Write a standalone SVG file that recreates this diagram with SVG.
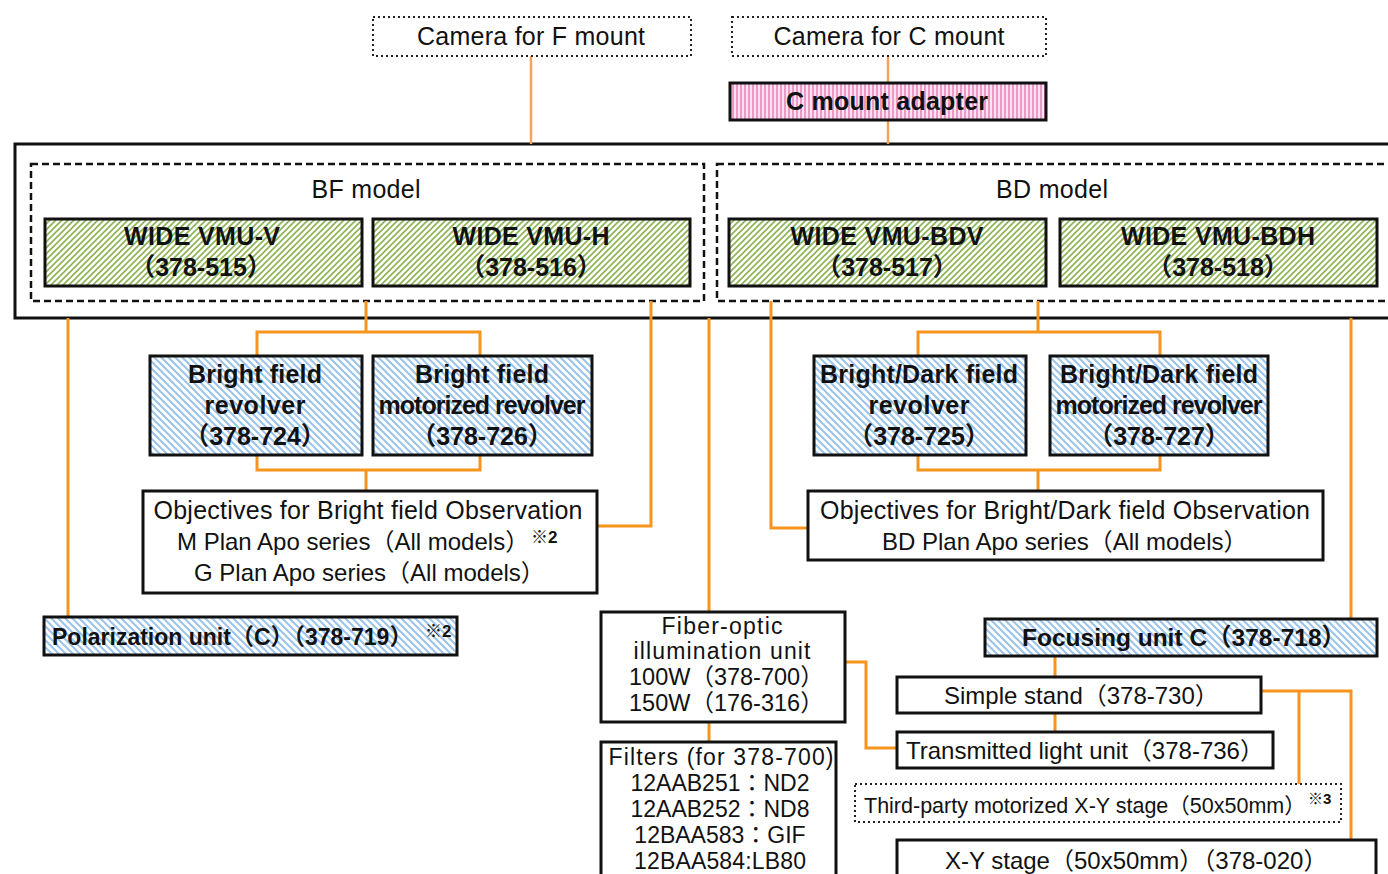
<svg xmlns="http://www.w3.org/2000/svg" width="1388" height="874" viewBox="0 0 1388 874">
<defs>
<pattern id="green" patternUnits="userSpaceOnUse" width="6" height="6">
<rect width="6" height="6" fill="#ffffff"/>
<path d="M-1,1 L1,-1 M0,6 L6,0 M5,7 L7,5" stroke="#8cb354" stroke-width="1.6"/>
</pattern>
<pattern id="blue" patternUnits="userSpaceOnUse" width="7" height="7">
<rect width="7" height="7" fill="#ffffff"/>
<path d="M-1,6 L1,8 M0,0 L7,7 M6,-1 L8,1" stroke="#9cc4ea" stroke-width="2"/>
</pattern>
<pattern id="pink" patternUnits="userSpaceOnUse" width="4" height="4">
<rect width="4" height="4" fill="#fbe3f0"/>
<path d="M1,0 V4" stroke="#e97fb9" stroke-width="1.5"/>
</pattern>
</defs>
<style>
text{font-family:"Liberation Sans","Noto Sans CJK JP",sans-serif;font-size:25px;fill:#111;text-anchor:middle}
.b{font-weight:bold}
.s{text-anchor:start}
.f{font-size:23px}
.sup{font-size:17px;font-weight:bold;text-anchor:start}
.box{fill:#fff;stroke:#111;stroke-width:3}
.dot{fill:#fff;stroke:#222;stroke-width:2;stroke-dasharray:2 3}
.dash{fill:none;stroke:#111;stroke-width:2.5;stroke-dasharray:7 4}
.g{fill:url(#green);stroke:#111;stroke-width:3}
.bl{fill:url(#blue);stroke:#111;stroke-width:3}
.pk{fill:url(#pink);stroke:#111;stroke-width:3}
.c{fill:none;stroke:#f7941d;stroke-width:3}
.ct{fill:none;stroke:#f5a25a;stroke-width:2.5}
</style>

<g id="system">
<rect x="15" y="144" width="1400" height="174" fill="#fff" stroke="#111" stroke-width="3"/>
</g>
<g id="bf-model">
<rect class="dash" x="31" y="164" width="673" height="137"/>
<text x="366" y="198" textLength="109">BF model</text>
</g>
<g id="bd-model">
<rect class="dash" x="717" y="164" width="700" height="137"/>
<text x="1052" y="198" textLength="112">BD model</text>
</g>

<g id="connectors">
<path class="ct" d="M531 56 V144"/>
<path class="ct" d="M888 56 V83 M888 120 V144"/>
<path class="c" d="M68 318 V617"/>
<path class="c" d="M366 301 V332 M257 356 V332 H480 V356"/>
<path class="c" d="M257 455 V470 H480 V455 M366 470 V491"/>
<path class="c" d="M651 301 V526 H597"/>
<path class="c" d="M709 318 V612"/>
<path class="c" d="M709 722 V742"/>
<path class="c" d="M845 662 H866 V748 H897"/>
<path class="c" d="M771 301 V528 H808"/>
<path class="c" d="M1038 301 V332 M918 356 V332 H1160 V356"/>
<path class="c" d="M918 455 V470 H1160 V455 M1038 470 V491"/>
<path class="c" d="M1351 318 V619"/>
<path class="c" d="M1055 656 V677 M1055 713 V732"/>
<path class="c" d="M1261 691 H1351 V840 M1299 691 V784"/>
</g>

<g id="camera-f">
<rect class="dot" x="373" y="17" width="318" height="39"/>
<text x="531" y="45" textLength="228">Camera for F mount</text>
</g>
<g id="camera-c">
<rect class="dot" x="732" y="17" width="314" height="39"/>
<text x="889" y="45" textLength="231">Camera for C mount</text>
</g>
<g id="c-mount-adapter">
<rect class="pk" x="730" y="83" width="316" height="37"/>
<text class="b" x="887" y="110" textLength="202">C mount adapter</text>
</g>

<g id="vmu-v">
<rect class="g" x="45" y="219" width="317" height="67"/>
<text class="b" x="202" y="245" textLength="156">WIDE VMU-V</text>
<text class="b" x="201" y="276">（378-515）</text>
</g>
<g id="vmu-h">
<rect class="g" x="373" y="219" width="317" height="67"/>
<text class="b" x="531" y="245" textLength="157">WIDE VMU-H</text>
<text class="b" x="531" y="276">（378-516）</text>
</g>
<g id="vmu-bdv">
<rect class="g" x="729" y="219" width="317" height="67"/>
<text class="b" x="887" y="245" textLength="193">WIDE VMU-BDV</text>
<text class="b" x="887" y="276">（378-517）</text>
</g>
<g id="vmu-bdh">
<rect class="g" x="1060" y="219" width="317" height="67"/>
<text class="b" x="1218" y="245" textLength="194">WIDE VMU-BDH</text>
<text class="b" x="1218" y="276">（378-518）</text>
</g>

<g id="bf-revolver">
<rect class="bl" x="150" y="356" width="212" height="99"/>
<text class="b" x="255" y="383" textLength="134">Bright field</text>
<text class="b" x="255" y="414" textLength="101">revolver</text>
<text class="b" x="255" y="445">（378-724）</text>
</g>
<g id="bf-motorized-revolver">
<rect class="bl" x="373" y="356" width="219" height="99"/>
<text class="b" x="482" y="383" textLength="134">Bright field</text>
<text class="b" x="482" y="414" textLength="207">motorized revolver</text>
<text class="b" x="482" y="445">（378-726）</text>
</g>
<g id="bd-revolver">
<rect class="bl" x="814" y="356" width="212" height="99"/>
<text class="b" x="919" y="383" textLength="198">Bright/Dark field</text>
<text class="b" x="919" y="414" textLength="101">revolver</text>
<text class="b" x="919" y="445">（378-725）</text>
</g>
<g id="bd-motorized-revolver">
<rect class="bl" x="1050" y="356" width="218" height="99"/>
<text class="b" x="1159" y="383" textLength="198">Bright/Dark field</text>
<text class="b" x="1159" y="414" textLength="207">motorized revolver</text>
<text class="b" x="1159" y="445">（378-727）</text>
</g>

<g id="bf-objectives">
<rect class="box" x="143" y="491" width="454" height="102"/>
<text x="368" y="519" textLength="429">Objectives for Bright field Observation</text>
<text class="s" x="177" y="550" style="font-size:24px">M Plan Apo series（All models）</text>
<text class="sup" x="531" y="543">※2</text>
<text class="s" x="194" y="581" style="font-size:24px">G Plan Apo series（All models）</text>
</g>
<g id="bd-objectives">
<rect class="box" x="808" y="491" width="515" height="69"/>
<text x="1065" y="519" textLength="490">Objectives for Bright/Dark field Observation</text>
<text class="s" x="882" y="550" style="font-size:24px">BD Plan Apo series（All models）</text>
</g>

<g id="polarization-unit">
<rect class="bl" x="44" y="617" width="413" height="38"/>
<text class="b s" x="52" y="645" style="font-size:23px">Polarization unit（C）（378-719）</text>
<text class="sup" x="425" y="637">※2</text>
</g>

<g id="fiber-optic">
<rect class="box" x="601" y="612" width="244" height="110"/>
<text class="f" x="722" y="634" textLength="121">Fiber-optic</text>
<text class="f" x="722" y="659" textLength="177">illumination unit</text>
<text class="f s" x="629" y="685" style="font-size:23.5px">100W（378-700）</text>
<text class="f s" x="629" y="711" style="font-size:23.5px">150W（176-316）</text>
</g>
<g id="filters">
<rect class="box" x="601" y="742" width="235" height="140"/>
<text class="f" x="721" y="765" textLength="225">Filters (for 378-700)</text>
<text class="f" x="720" y="791">12AAB251：ND2</text>
<text class="f" x="720" y="817">12AAB252：ND8</text>
<text class="f" x="720" y="843">12BAA583：GIF</text>
<text class="f" x="720" y="869" textLength="172">12BAA584:LB80</text>
</g>

<g id="focusing-unit">
<rect class="bl" x="985" y="619" width="392" height="37"/>
<text class="b s" x="1022" y="646" style="font-size:24.5px">Focusing unit C（378-718）</text>
</g>
<g id="simple-stand">
<rect class="box" x="897" y="677" width="364" height="36"/>
<text class="s" x="944" y="704" style="font-size:24px">Simple stand（378-730）</text>
</g>
<g id="transmitted-light">
<rect class="box" x="897" y="732" width="376" height="36"/>
<text class="s" x="906" y="759" style="font-size:24px">Transmitted light unit（378-736）</text>
</g>
<g id="third-party-stage">
<rect class="dot" x="855" y="784" width="486" height="38"/>
<text class="s" x="864" y="813" style="font-size:21.5px">Third-party motorized X-Y stage（50x50mm）</text>
<text class="sup" x="1308" y="804" style="font-size:15px">※3</text>
</g>
<g id="xy-stage">
<rect class="box" x="897" y="840" width="479" height="50"/>
<text class="s" x="945" y="869" style="font-size:24px">X-Y stage（50x50mm）（378-020）</text>
</g>
</svg>
